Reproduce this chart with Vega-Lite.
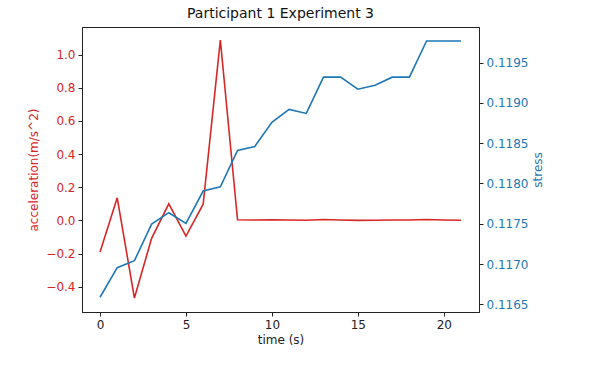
{
  "$schema": "https://vega.github.io/schema/vega-lite/v6.json",
  "width": 397,
  "height": 285,
  "autosize": "none",
  "padding": {"left": 82, "top": 27, "right": 125, "bottom": 54},
  "background": "white",
  "config": {
    "font": "DejaVu Sans",
    "view": {"stroke": "#222222", "strokeWidth": 1},
    "axis": {"grid": false, "domainColor": "#222222", "tickColor": "#222222", "tickSize": 4, "labelPadding": 3, "labelFontSize": 12, "titleFontSize": 12, "titleFontWeight": "normal", "labelFont": "DejaVu Sans", "titleFont": "DejaVu Sans"}
  },
  "title": {"text": "Participant 1 Experiment 3", "fontSize": 14, "fontWeight": "normal", "font": "DejaVu Sans", "color": "#111111", "offset": 6},
  "data": {
    "values": [
      {"time": 0, "acceleration": -0.19, "stress": 0.116587},
      {"time": 1, "acceleration": 0.136, "stress": 0.116954},
      {"time": 2, "acceleration": -0.468, "stress": 0.117041},
      {"time": 3, "acceleration": -0.108, "stress": 0.117496},
      {"time": 4, "acceleration": 0.1, "stress": 0.117637},
      {"time": 5, "acceleration": -0.095, "stress": 0.117505},
      {"time": 6, "acceleration": 0.098, "stress": 0.117906},
      {"time": 7, "acceleration": 1.088, "stress": 0.117959},
      {"time": 8, "acceleration": 0.004, "stress": 0.11841},
      {"time": 9, "acceleration": 0.002, "stress": 0.11846},
      {"time": 10, "acceleration": 0.003, "stress": 0.11876},
      {"time": 11, "acceleration": 0.002, "stress": 0.11892},
      {"time": 12, "acceleration": 0.001, "stress": 0.11887},
      {"time": 13, "acceleration": 0.005, "stress": 0.11932},
      {"time": 14, "acceleration": 0.002, "stress": 0.11932},
      {"time": 15, "acceleration": 0.0, "stress": 0.11917},
      {"time": 16, "acceleration": 0.001, "stress": 0.11922},
      {"time": 17, "acceleration": 0.002, "stress": 0.11932},
      {"time": 18, "acceleration": 0.002, "stress": 0.11932},
      {"time": 19, "acceleration": 0.005, "stress": 0.11977},
      {"time": 20, "acceleration": 0.002, "stress": 0.11977},
      {"time": 21, "acceleration": 0.001, "stress": 0.11977}
    ]
  },
  "encoding": {
    "x": {"field": "time", "type": "quantitative", "title": "time (s)",
      "scale": {"domain": [-1.05, 22.05], "nice": false, "zero": false},
      "axis": {"values": [0, 5, 10, 15, 20], "titlePadding": 4, "titleColor": "#222222", "labelColor": "#222222"}}
  },
  "layer": [
    {
      "mark": {"type": "line", "color": "#d62728", "strokeWidth": 1.6},
      "encoding": {
        "y": {"field": "acceleration", "type": "quantitative", "title": "acceleration(m/s^2)",
          "scale": {"domain": [-0.5525, 1.1665], "nice": false, "zero": false},
          "axis": {"orient": "left", "values": [-0.4, -0.2, 0, 0.2, 0.4, 0.6, 0.8, 1.0], "format": ".1f", "labelColor": "#d62728", "titleColor": "#d62728", "titlePadding": 5}}
      }
    },
    {
      "mark": {"type": "line", "color": "#1f77b4", "strokeWidth": 1.6},
      "encoding": {
        "y": {"field": "stress", "type": "quantitative", "title": "stress",
          "scale": {"domain": [0.116404, 0.119943], "nice": false, "zero": false},
          "axis": {"orient": "right", "values": [0.1165, 0.117, 0.1175, 0.118, 0.1185, 0.119, 0.1195], "format": ".4f", "labelColor": "#1f77b4", "titleColor": "#1f77b4", "titlePadding": 5, "titleAngle": 270, "titleBaseline": "top"}}
      }
    }
  ],
  "resolve": {"scale": {"y": "independent"}}
}
